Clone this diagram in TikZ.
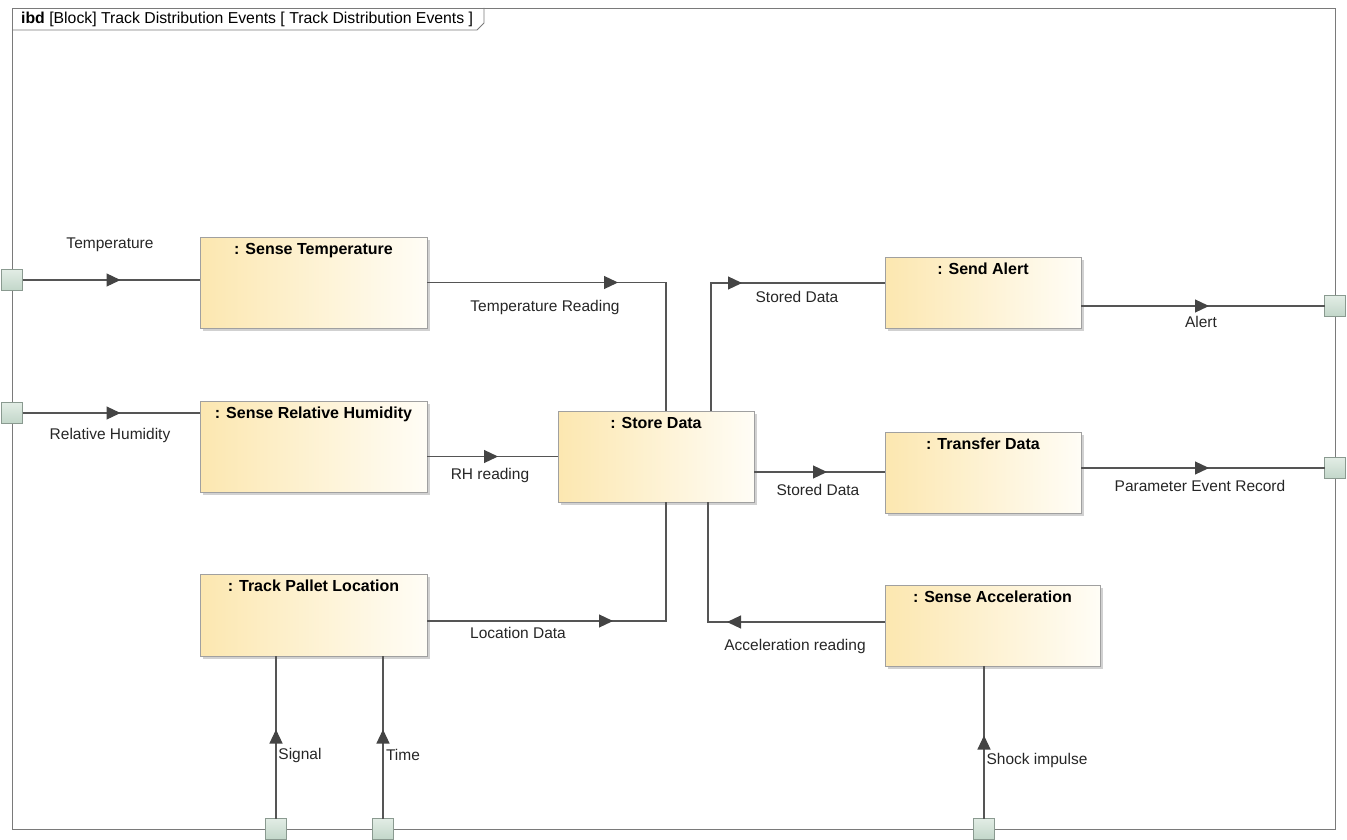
\documentclass[tikz,border=0pt]{standalone}
\usepackage{fontspec}
\setmainfont{Liberation Sans}
\usetikzlibrary{arrows.meta,decorations.markings,shadows,calc}

\definecolor{wire}{HTML}{555555}
\definecolor{framegray}{HTML}{7A7A7A}
\definecolor{blockedge}{HTML}{A0A0A0}
\definecolor{blockL}{HTML}{FCE7B0}
\definecolor{blockR}{HTML}{FFFDF6}
\definecolor{portedge}{HTML}{8A9A90}
\definecolor{portA}{HTML}{E2EDE5}
\definecolor{portB}{HTML}{C2D6C9}
\definecolor{tipgray}{HTML}{444444}

\begin{document}
\begin{tikzpicture}[x=1pt,y=-1pt,
  font=\fontsize{15.5}{18}\selectfont,
  part/.style={draw=blockedge, line width=0.8pt, anchor=north west,
    left color=blockL, right color=blockR, inner sep=0pt, outer sep=0pt,
    drop shadow={shadow xshift=3pt,shadow yshift=-3pt,fill=black!40,opacity=0.45}},
  parttitle/.style={font=\fontsize{16}{18}\selectfont\bfseries, anchor=north, inner sep=0pt},
  port/.style={draw=portedge, line width=0.8pt, minimum size=21pt, inner sep=0pt, outer sep=0pt,
    top color=portA, bottom color=portB},
  flow/.style={draw=wire, line width=1.2pt},
  tipat/.style={decoration={markings, mark=at position #1 with
      {\arrow[tipgray]{Triangle[length=14pt,width=13pt]}}}, postaction={decorate}},
  lbl/.style={inner sep=1pt, text=black!85}
]
\useasboundingbox (0,0) rectangle (1347,840);

% diagram frame and heading tab
\draw[framegray, line width=0.9pt] (12,8) rectangle (1335,829);
\draw[framegray, line width=0.9pt] (12,30) -- (477,30) -- (484,23) -- (484,8);
\node[anchor=west, inner sep=0pt, font=\fontsize{15.8}{17}\selectfont] (heading) at (21,19)
  {\textbf{ibd} [Block] Track Distribution Events [ Track Distribution Events ]};

% parts
\node[part, minimum width=227pt, minimum height=91pt] (st) at (200,237) {};
\node[part, minimum width=227pt, minimum height=91pt] (srh) at (200,401) {};
\node[part, minimum width=227pt, minimum height=82pt] (tpl) at (200,574) {};
\node[part, minimum width=196pt, minimum height=91pt] (sd) at (558,411) {};
\node[part, minimum width=196pt, minimum height=71pt] (sa) at (885,257) {};
\node[part, minimum width=196pt, minimum height=81pt] (td) at (885,432) {};
\node[part, minimum width=215pt, minimum height=81pt] (sacc) at (885,585) {};

\node[parttitle] at ([yshift=-6pt]st.north) {: Sense Temperature};
\node[parttitle] at ([yshift=-6pt]srh.north) {: Sense Relative Humidity};
\node[parttitle] at ([yshift=-6pt]tpl.north) {: Track Pallet Location};
\node[parttitle] at ([yshift=-6pt]sd.north) {: Store Data};
\node[parttitle] at ([yshift=-6pt]sa.north) {: Send Alert};
\node[parttitle] at ([yshift=-6pt]td.north) {: Transfer Data};
\node[parttitle] at ([yshift=-6pt]sacc.north) {: Sense Acceleration};

% boundary ports
\node[port] (pT) at (12,280) {};
\node[port] (pRH) at (12,413) {};
\node[port] (pAl) at (1335,306) {};
\node[port] (pPE) at (1335,468) {};
\node[port] (pSig) at (276,829) {};
\node[port] (pTime) at (383,829) {};
\node[port] (pShock) at (984,829) {};

% item flows
\draw[flow, tipat=98pt] (pT) -- (st.west |- pT);
\draw[flow, tipat=98pt] (pRH) -- (srh.west |- pRH);
\draw[flow, tipat=191pt] (st.east) -| ([xshift=10pt]sd.north);
\draw[flow, tipat=71pt] (srh.east |- sd.west) -- (sd.west);
\draw[flow, tipat=186pt] (tpl.east |- 0,621) -| ([xshift=10pt]sd.south);
\draw[flow, tipat=159pt] ([xshift=55pt]sd.north) |- (sa.west |- 0,283);
\draw[flow, tipat=73pt] (sd.east |- 0,472) -- (td.west |- 0,472);
\draw[flow, tipat=128pt] (sa.east |- pAl) -- (pAl);
\draw[flow, tipat=128pt] (td.east |- pPE) -- (pPE);
\draw[flow, tipat=158pt] (sacc.west |- 0,622) -| ([xshift=52pt]sd.south);
\draw[flow, tipat=89pt] (pSig) -- (pSig |- tpl.south);
\draw[flow, tipat=89pt] (pTime) -- (pTime |- tpl.south);
\draw[flow, tipat=83pt] (pShock) -- (pShock |- sacc.south);

% flow labels
\node[lbl] at (110,245) {Temperature};
\node[lbl] at (545,307) {Temperature Reading};
\node[lbl] at (110,435) {Relative Humidity};
\node[lbl] at (490,475) {RH reading};
\node[lbl] at (518,633) {Location Data};
\node[lbl] at (797,297) {Stored Data};
\node[lbl] at (818,490) {Stored Data};
\node[lbl] at (1201,322) {Alert};
\node[lbl] at (1200,486) {Parameter Event Record};
\node[lbl] at (795,646) {Acceleration reading};
\node[lbl] at (300,755) {Signal};
\node[lbl] at (403,755) {Time};
\node[lbl] at (1037,760) {Shock impulse};
\end{tikzpicture}
\end{document}
